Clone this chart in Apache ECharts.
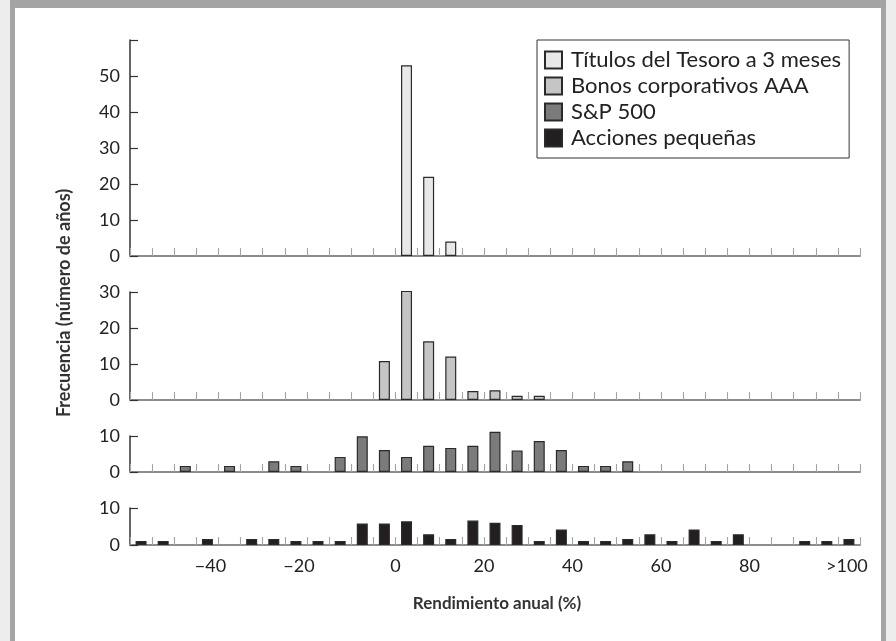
<!DOCTYPE html>
<html>
<head>
<meta charset="utf-8">
<script src="https://cdn.jsdelivr.net/npm/echarts@6/dist/echarts.min.js"></script>
<style>
  html, body { margin:0; padding:0; width:896px; height:641px; overflow:hidden; background:#ededed; }
  #frame { position:absolute; left:10px; top:0; width:866px; height:660px; background:#fff;
           border-left:5px solid #a4a4a4; border-right:5px solid #a4a4a4; border-top:8px solid #a4a4a4; }
  #chart { position:absolute; left:0; top:0; width:896px; height:641px; }
</style>
</head>
<body>
<div id="frame"></div>
<div id="chart"></div>
<script>
// Bin lower edges (annual return, %)
const binLow = [-60,-55,-50,-45,-40,-35,-30,-25,-20,-15,-10,-5,0,5,10,15,20,25,30,35,40,45,50,55,60,65,70,75,80,85,90,95,100];
const N = null;
const seriesNames = ['Títulos del Tesoro a 3 meses','Bonos corporativos AAA','S&P 500','Acciones pequeñas'];
const tBills = [N,N,N,N,N,N,N,N,N,N,N,N,53,22,4,N,N,N,N,N,N,N,N,N,N,N,N,N,N,N,N,N,N];
const bonds  = [N,N,N,N,N,N,N,N,N,N,N,10.8,30.3,16.3,12.1,2.5,2.7,1.2,1.2,N,N,N,N,N,N,N,N,N,N,N,N,N,N];
const sp500  = [N,N,1.7,N,1.7,N,3.0,1.7,N,4.2,9.9,6.1,4.2,7.3,6.7,7.3,11.2,6.0,8.6,6.1,1.7,1.7,3.0,N,N,N,N,N,N,N,N,N,N];
const small  = [1.1,1.1,N,1.6,N,1.6,1.6,1.1,1.1,1.1,5.8,5.8,6.4,2.9,1.6,6.6,6.0,5.4,1.1,4.2,1.1,1.1,1.6,2.9,1.1,4.2,1.1,2.9,N,N,1.1,1.1,1.6];
const panelMax = [60, 30, 10, 10];
const xTickLabels = [-40,-20,0,20,40,60,80,100];
const xTickText = ['−40','−20','0','20','40','60','80','>100'];
const yTitle = 'Frecuencia (número de años)';
const xTitle = 'Rendimiento anual (%)';

const fills = ['#e8e8e8','#c5c5c5','#7b7b7b','#231f20'];
const FONT = 'Lato, "Open Sans", sans-serif';
const grids = [
  {left:130, right:36, top:40,  height:216},
  {left:130, right:36, top:292, height:108},
  {left:130, right:36, top:436, height:36},
  {left:130, right:36, top:508, height:37}
];
const allVals = [tBills, bonds, sp500, small];

function toData(vals){
  const out = [];
  binLow.forEach((b,i)=>{ if (vals[i] != null) out.push([b + 2.5, vals[i]]); });
  return out;
}

const xAxes = grids.map((g,i)=>({
  type:'value', gridIndex:i, min:-60, max:105, interval:5,
  axisLine:{show:true, onZero:false, lineStyle:{color:'#8c8c8c', width:2}},
  axisTick:{show:true, inside:true, length:8, lineStyle:{color:'#a3a3a3', width:1.1}},
  splitLine:{show:false},
  axisLabel:{
    show: i===3, margin:12, fontSize:18, fontFamily:FONT, color:'#222',
    formatter:function(v){
      const k = xTickLabels.indexOf(v);
      if (k < 0) return '';
      if (v < 0) return '{n|' + xTickText[k] + '}';
      if (v === 100) return '{g|' + xTickText[k] + '}';
      return xTickText[k];
    },
    rich:{
      n:{padding:[0,16,0,0], fontSize:18, fontFamily:FONT, color:'#222'},
      g:{padding:[0,0,0,18], fontSize:18, fontFamily:FONT, color:'#222'}
    }
  }
}));

const yAxes = grids.map((g,i)=>({
  type:'value', gridIndex:i, min:0, max:panelMax[i], interval:10,
  axisLine:{show:true, onZero:false, lineStyle:{color:'#333', width:1.5}},
  axisTick:{show:true, inside:true, length:8, lineStyle:{color:'#333', width:1.2}},
  splitLine:{show:false},
  axisLabel:{
    margin:10, fontSize:18, fontFamily:FONT, color:'#222',
    formatter:function(v){ return (i===0 && v===60) ? '' : String(v); }
  }
}));

const series = allVals.map((vals,i)=>({
  name: seriesNames[i], type:'bar', xAxisIndex:i, yAxisIndex:i,
  barWidth:11, data: toData(vals), clip:false,
  itemStyle:{color:fills[i], borderColor:'#2a2a2a', borderWidth:1.2},
  emphasis:{disabled:true}, silent:true, z:2
}));

const chart = echarts.init(document.getElementById('chart'), null, {renderer:'canvas'});
chart.setOption({
  backgroundColor:'transparent',
  animation:false,
  grid: grids,
  xAxis: xAxes,
  yAxis: yAxes,
  legend:{
    data: seriesNames, orient:'vertical', left:537, top:40,
    padding:[9,8,9,7], itemGap:4, itemWidth:17, itemHeight:17,
    borderColor:'#333', borderWidth:1, backgroundColor:'#fff',
    icon:'rect', selectedMode:false,
    textStyle:{fontSize:22, lineHeight:20, fontFamily:FONT, color:'#222', padding:[0,0,0,4]},
    z:10
  },
  graphic:[
    {type:'text', x:64, y:303, rotation:Math.PI/2,
     style:{text:yTitle, fontSize:18, fontWeight:'bold', fontFamily:FONT, fill:'#333',
            textAlign:'center', textVerticalAlign:'middle', align:'center', verticalAlign:'middle'}},
    {type:'text', x:497, y:604,
     style:{text:xTitle, fontSize:17, fontWeight:'bold', fontFamily:FONT, fill:'#333',
            textAlign:'center', textVerticalAlign:'middle', align:'center', verticalAlign:'middle'}}
  ],
  series: series
});
</script>
</body>
</html>
